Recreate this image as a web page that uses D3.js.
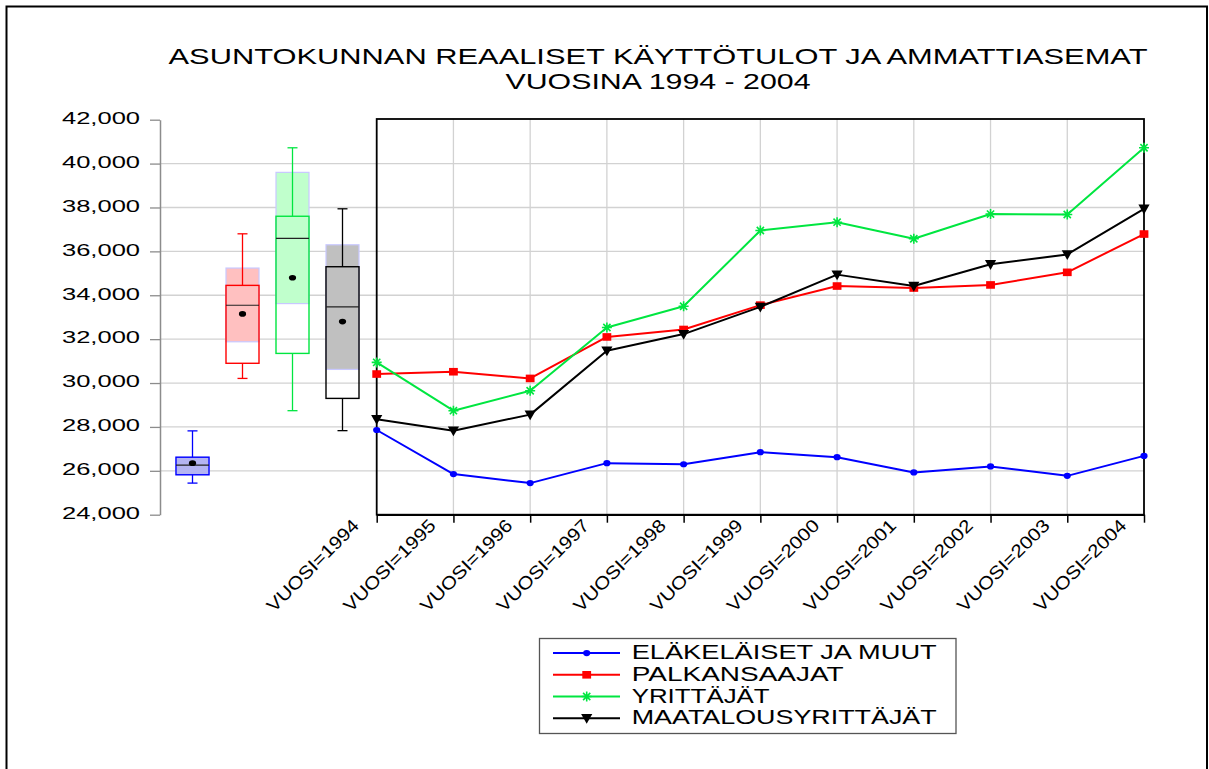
<!DOCTYPE html>
<html>
<head>
<meta charset="utf-8">
<script src="https://cdn.jsdelivr.net/npm/d3@7"></script>
<style>
  html, body { margin: 0; padding: 0; background: #fff; }
  svg { display: block; font-family: "Liberation Sans", Arial, sans-serif; }
</style>
</head>
<body>
<svg id="chart" width="1209" height="769"></svg>
<script>
// ---------------- data ----------------
const years = [1994, 1995, 1996, 1997, 1998, 1999, 2000, 2001, 2002, 2003, 2004];
const seriesNames = ["ELÄKELÄISET JA MUUT", "PALKANSAAJAT", "YRITTÄJÄT", "MAATALOUSYRITTÄJÄT"];
const elakelaiset  = [27860, 25850, 25440, 26350, 26300, 26850, 26620, 25925, 26200, 25770, 26680];
const palkansaajat = [30410, 30515, 30210, 32100, 32440, 33550, 34420, 34330, 34470, 35045, 36790];
const yrittajat    = [30940, 28740, 29650, 32530, 33500, 36950, 37330, 36575, 37700, 37680, 40720];
const maatalous    = [28350, 27830, 28560, 31470, 32230, 33470, 34940, 34420, 35410, 35860, 37940];

// box plot statistics (one per series)
const boxMin       = [25440, 30210, 28740, 27830];
const boxMax       = [27820, 36800, 40720, 37940];
const boxQ1        = [25820, 30900, 31350, 29300];
const boxQ3        = [26620, 34450, 37600, 35300];
const boxMedian    = [26260, 33545, 36590, 33470];
const boxMean      = [26350, 33150, 34800, 32800];
const boxShadeLow  = [25820, 31880, 33620, 30620];
const boxShadeHigh = [26620, 35240, 39600, 36300];

const yTicks = [24000, 26000, 28000, 30000, 32000, 34000, 36000, 38000, 40000, 42000];
const titleLines = ["ASUNTOKUNNAN REAALISET KÄYTTÖTULOT JA AMMATTIASEMAT", "VUOSINA 1994 - 2004"];

// ---------------- styles ----------------
const seriesColors = ["#0000ff", "#ff0000", "#00e640", "#000000"];
const shadeColors  = ["#b4b4f2", "#ffc0c0", "#c0ffcc", "#c0c0c0"];
const markerTypes  = ["circle", "square", "asterisk", "triangle"];
const legendTextLen = [305, 212, 138, 305];

const seriesValues = [elakelaiset, palkansaajat, yrittajat, maatalous];

const svg = d3.select("#chart");

// outer frame
svg.append("rect").attr("x", 6.5).attr("y", 6.5).attr("width", 1200.5).attr("height", 780)
  .attr("fill", "none").attr("stroke", "#000").attr("stroke-width", 2);

// title
svg.selectAll("text.title").data(titleLines).enter().append("text")
  .attr("class", "title")
  .attr("x", 658).attr("y", (d, i) => i === 0 ? 63.5 : 89)
  .attr("text-anchor", "middle")
  .attr("font-size", 22)
  .attr("textLength", (d, i) => i === 0 ? 979 : 305)
  .attr("lengthAdjust", "spacingAndGlyphs")
  .attr("fill", "#000")
  .text(d => d);

// scales
const y = d3.scaleLinear().domain([24000, 42000]).range([514.7, 119.7]);
const x = d3.scalePoint().domain(years).range([376.7, 1144]);
const xb = d3.scalePoint().domain(seriesNames).range([159, 376]).padding(0.67);
const plotLeft = 376.7, plotRight = 1144, plotTop = 119, plotBottom = 514.7;

// horizontal gridlines
svg.append("g").selectAll("line").data(yTicks.filter(t => t > 24000 && t < 42000)).enter().append("line")
  .attr("x1", 160).attr("x2", plotRight)
  .attr("y1", d => y(d)).attr("y2", d => y(d))
  .attr("stroke", "#d2d2d2").attr("stroke-width", 1.3);

// vertical gridlines
svg.append("g").selectAll("line").data(years.slice(1, -1)).enter().append("line")
  .attr("x1", d => x(d)).attr("x2", d => x(d))
  .attr("y1", plotTop).attr("y2", plotBottom)
  .attr("stroke", "#d2d2d2").attr("stroke-width", 1.3);

// y axis (left, gray)
const yAxis = svg.append("g").attr("transform", "translate(160,0)")
  .call(d3.axisLeft(y).tickValues(yTicks).tickSize(10).tickSizeOuter(0).tickFormat(d3.format(",")));
yAxis.select(".domain").attr("stroke", "#8c8c8c").attr("stroke-width", 1.5);
yAxis.selectAll(".tick line").attr("stroke", "#8c8c8c").attr("stroke-width", 1.3);
yAxis.selectAll(".tick text")
  .attr("x", -20).attr("dy", null).attr("y", 3.8)
  .attr("font-size", 17).attr("fill", "#000")
  .attr("font-family", "Liberation Sans, Arial, sans-serif")
  .attr("textLength", 78).attr("lengthAdjust", "spacingAndGlyphs");

// box plots
const boxW = 33;
const boxes = svg.append("g").selectAll("g").data(seriesNames).enter().append("g");
boxes.each(function (name, i) {
  const g = d3.select(this);
  const cx = xb(name);
  // shaded (median confidence) region
  g.append("rect")
    .attr("x", cx - boxW / 2).attr("width", boxW)
    .attr("y", y(boxShadeHigh[i])).attr("height", y(boxShadeLow[i]) - y(boxShadeHigh[i]))
    .attr("fill", shadeColors[i]).attr("stroke", "#c8c8ff").attr("stroke-width", 1.2);
  // whiskers
  g.append("line").attr("x1", cx).attr("x2", cx).attr("y1", y(boxMax[i])).attr("y2", y(boxQ3[i]))
    .attr("stroke", seriesColors[i]).attr("stroke-width", 1.3);
  g.append("line").attr("x1", cx).attr("x2", cx).attr("y1", y(boxQ1[i])).attr("y2", y(boxMin[i]))
    .attr("stroke", seriesColors[i]).attr("stroke-width", 1.3);
  [boxMax[i], boxMin[i]].forEach(v => {
    g.append("line").attr("x1", cx - 5).attr("x2", cx + 5).attr("y1", y(v)).attr("y2", y(v))
      .attr("stroke", seriesColors[i]).attr("stroke-width", 1.3);
  });
  // box
  g.append("rect")
    .attr("x", cx - boxW / 2).attr("width", boxW)
    .attr("y", y(boxQ3[i])).attr("height", y(boxQ1[i]) - y(boxQ3[i]))
    .attr("fill", "none").attr("stroke", seriesColors[i]).attr("stroke-width", 1.4);
  // median
  g.append("line").attr("x1", cx - boxW / 2).attr("x2", cx + boxW / 2)
    .attr("y1", y(boxMedian[i])).attr("y2", y(boxMedian[i]))
    .attr("stroke", "#222").attr("stroke-width", 1.2);
  // mean
  g.append("ellipse").attr("cx", cx).attr("cy", y(boxMean[i])).attr("rx", 3.6).attr("ry", 2.8)
    .attr("fill", "#000");
});

// plot frame (line chart)
svg.append("rect").attr("x", plotLeft).attr("y", plotTop)
  .attr("width", plotRight - plotLeft).attr("height", plotBottom - plotTop)
  .attr("fill", "none").attr("stroke", "#000").attr("stroke-width", 1.8);

// x axis
const xAxis = svg.append("g").attr("transform", `translate(0,${plotBottom})`)
  .call(d3.axisBottom(x).tickSize(8).tickSizeOuter(0).tickFormat(d => "VUOSI=" + d));
xAxis.select(".domain").attr("stroke", "#000").attr("stroke-width", 1.8);
xAxis.selectAll(".tick line").attr("stroke", "#000").attr("stroke-width", 1.5);
xAxis.selectAll(".tick text")
  .attr("y", null).attr("dy", null)
  .attr("text-anchor", "end")
  .attr("transform", "translate(-17,12) rotate(-45)")
  .attr("font-size", 18).attr("fill", "#000")
  .attr("font-family", "Liberation Sans, Arial, sans-serif")
  .attr("textLength", 122).attr("lengthAdjust", "spacingAndGlyphs");

// marker drawing
function drawMarker(sel, type, color) {
  if (type === "circle") {
    sel.append("ellipse").attr("rx", 3.6).attr("ry", 3.1).attr("fill", color);
  } else if (type === "square") {
    sel.append("rect").attr("x", -4.4).attr("y", -3.8).attr("width", 8.8).attr("height", 7.6).attr("fill", color);
  } else if (type === "asterisk") {
    const r = 5;
    sel.append("path")
      .attr("d", `M${-r},0L${r},0M0,${-r}L0,${r}M${-r * 0.72},${-r * 0.72}L${r * 0.72},${r * 0.72}M${-r * 0.72},${r * 0.72}L${r * 0.72},${-r * 0.72}`)
      .attr("stroke", color).attr("stroke-width", 1.6).attr("fill", "none");
  } else if (type === "triangle") {
    sel.append("path").attr("d", "M-5.6,-4.2L5.6,-4.2L0,5.6Z").attr("fill", color);
  }
}

// lines
const line = d3.line().x((d, i) => x(years[i])).y(d => y(d));
seriesValues.forEach((vals, s) => {
  const g = svg.append("g");
  g.append("path").datum(vals).attr("d", line)
    .attr("fill", "none").attr("stroke", seriesColors[s]).attr("stroke-width", 2)
    .attr("stroke-linejoin", "round");
  g.selectAll("g.m").data(vals).enter().append("g").attr("class", "m")
    .attr("transform", (d, i) => `translate(${x(years[i])},${y(d)})`)
    .each(function () { drawMarker(d3.select(this), markerTypes[s], seriesColors[s]); });
});

// legend
const legend = svg.append("g");
legend.append("rect").attr("x", 539.5).attr("y", 638.5).attr("width", 416.5).attr("height", 95)
  .attr("fill", "#fff").attr("stroke", "#555").attr("stroke-width", 1.3);
seriesNames.forEach((name, i) => {
  const base = 659.3 + i * 21.7;
  const cy = base - 6.2;
  legend.append("line").attr("x1", 553).attr("x2", 620).attr("y1", cy).attr("y2", cy)
    .attr("stroke", seriesColors[i]).attr("stroke-width", 2);
  const m = legend.append("g").attr("transform", `translate(586.7,${cy})`);
  drawMarker(m, markerTypes[i], seriesColors[i]);
  legend.append("text").attr("x", 631.7).attr("y", base)
    .attr("font-size", 19.5).attr("fill", "#000")
    .attr("textLength", legendTextLen[i]).attr("lengthAdjust", "spacingAndGlyphs")
    .text(name);
});
</script>
</body>
</html>
